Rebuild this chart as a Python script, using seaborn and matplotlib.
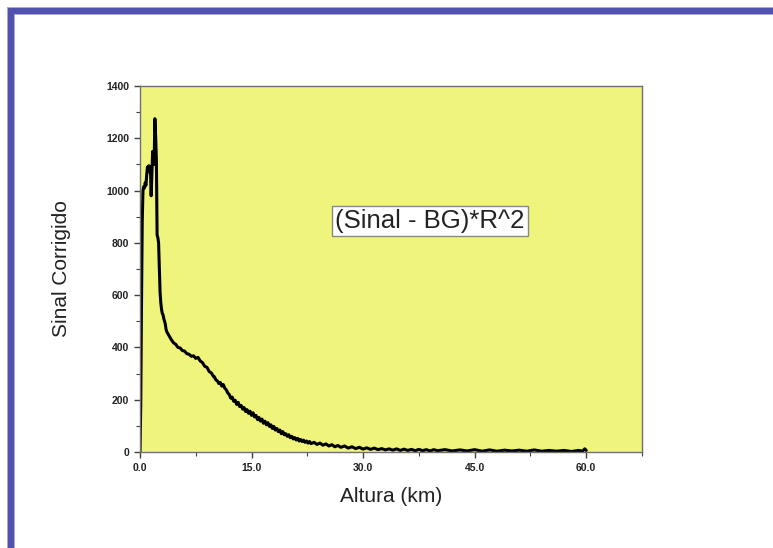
import matplotlib
matplotlib.use("Agg")
import matplotlib.pyplot as plt
from matplotlib.patches import Rectangle
from matplotlib.ticker import MultipleLocator, FormatStrFormatter
import pandas as pd
import seaborn as sns

# Range-corrected lidar signal versus altitude
altura_km = [
    0.0, 0.1, 0.2, 0.3, 0.4, 0.5, 0.6, 0.7, 0.8, 0.9,
    1.0, 1.1, 1.2, 1.3, 1.4, 1.5, 1.6, 1.7, 1.8, 1.9,
    2.0, 2.1, 2.2, 2.3, 2.4, 2.5, 2.6, 2.7, 2.8, 2.9,
    3.0, 3.1, 3.2, 3.3, 3.4, 3.5, 3.6, 3.8, 4.0, 4.2,
    4.5, 4.8, 5.1, 5.4, 5.7, 6.0, 6.3, 6.6, 6.9, 7.2,
    7.5, 7.8, 8.1, 8.4, 8.7, 9.0, 9.3, 9.6, 9.9,
    10.0, 10.2, 10.4, 10.6, 10.8, 11.0, 11.2, 11.4, 11.6, 11.8,
    12.0, 12.2, 12.4, 12.6, 12.8, 13.0, 13.2, 13.4, 13.6, 13.8,
    14.0, 14.2, 14.4, 14.6, 14.8, 15.0, 15.2, 15.4, 15.6, 15.8,
    16.0, 16.2, 16.4, 16.6, 16.8, 17.0, 17.2, 17.4, 17.6, 17.8,
    18.0, 18.2, 18.4, 18.6, 18.8, 19.0, 19.2, 19.4, 19.6, 19.8,
    20.0, 20.2, 20.4, 20.6, 20.8, 21.0, 21.2, 21.4, 21.6, 21.8,
    22.0, 22.2, 22.4, 22.6, 22.8, 23.0, 23.4, 23.8, 24.2, 24.6,
    25.0, 25.4, 25.8, 26.2, 26.6, 27.0, 27.5, 28.0, 28.5, 29.0,
    29.5, 30.0, 30.5, 31.0, 31.5, 32.0, 32.5, 33.0, 33.5, 34.0,
    34.5, 35.0, 35.5, 36.0, 36.5, 37.0, 37.5, 38.0, 38.5, 39.0,
    39.5, 40.0, 41.0, 42.0, 43.0, 44.0, 45.0, 46.0, 47.0, 48.0,
    49.0, 50.0, 51.0, 52.0, 53.0, 54.0, 55.0, 56.0, 57.0, 58.0,
    59.0, 59.5, 59.8, 60.0,
]
sinal_corrigido = [
    0, 180, 560, 880, 1000, 1015, 1010, 1030, 1020, 1060,
    1090, 1080, 1095, 1070, 1090, 980, 1060, 1150, 1120, 1100,
    1275, 1210, 1120, 830, 820, 800, 700, 610, 570, 545,
    530, 525, 510, 500, 490, 470, 460, 450, 440, 430,
    418, 412, 400, 398, 388, 386, 376, 374, 366, 368,
    358, 362, 348, 342, 328, 324, 308, 302, 288,
    288, 276, 272, 262, 266, 252, 258, 244, 238, 226,
    220, 206, 210, 194, 198, 182, 190, 174, 178, 164,
    170, 155, 162, 148, 156, 140, 150, 134, 140, 124,
    132, 118, 126, 110, 118, 104, 112, 98, 104, 90,
    98, 84, 90, 78, 84, 70, 78, 66, 70, 60,
    66, 55, 60, 50, 55, 46, 52, 42, 48, 40,
    45, 37, 42, 34, 40, 32, 37, 29, 34, 26,
    31, 23, 28, 20, 25, 18, 23, 15, 20, 13,
    18, 11, 16, 10, 15, 9, 13, 8, 12, 7,
    12, 6, 11, 6, 10, 5, 10, 5, 9, 4,
    9, 5, 9, 4, 8, 4, 9, 3, 8, 3,
    7, 4, 7, 3, 8, 3, 6, 3, 6, 2,
    6, 3, 12, 6,
]
x_ticks = [0.0, 15.0, 30.0, 45.0, 60.0]
y_ticks = [0, 200, 400, 600, 800, 1000, 1200, 1400]
anotacao = "(Sinal - BG)*R^2"

df = pd.DataFrame({"Altura (km)": altura_km, "Sinal Corrigido": sinal_corrigido})

sns.set_style("ticks")
plt.rcParams["font.family"] = ["Liberation Sans", "DejaVu Sans"]

W, H = 773, 548
fig = plt.figure(figsize=(W / 100, H / 100), dpi=100)
fig.patch.set_facecolor("white")

# Blue frame along the top and left edges
for (x0, y0, w, h, c) in [
    (7, 7, 8, H, "#a9a9dc"), (7, 7, W, 8, "#a9a9dc"),
    (8, 8, 6, H, "#5151ae"), (8, 8, W, 6, "#5151ae"),
]:
    fig.patches.append(Rectangle((x0 / W, 1 - (y0 + h) / H), w / W, h / H,
                                 transform=fig.transFigure, color=c, lw=0, zorder=0))

ax = fig.add_axes([140 / W, (H - 452) / H, (642 - 140) / W, (452 - 86) / H])
ax.set_facecolor("#eef47c")

sns.lineplot(data=df, x="Altura (km)", y="Sinal Corrigido", ax=ax,
             color="black", linewidth=2.2, estimator=None, sort=False)

ax.set_xlim(0, 67.5)
ax.set_ylim(0, 1400)
ax.set_xticks(x_ticks)
ax.set_yticks(y_ticks)
ax.xaxis.set_minor_locator(MultipleLocator(7.5))
ax.yaxis.set_minor_locator(MultipleLocator(100))
ax.xaxis.set_major_formatter(FormatStrFormatter("%.1f"))
ax.yaxis.set_major_formatter(FormatStrFormatter("%d"))

for s in ax.spines.values():
    s.set_color("#707070")
    s.set_linewidth(1.0)
ax.tick_params(which="major", direction="out", length=4, width=1.0,
               color="#404040", labelsize=7.5, pad=4)
ax.tick_params(which="minor", direction="out", length=3, width=0.8, color="#404040")
for lab in ax.get_xticklabels() + ax.get_yticklabels():
    lab.set_fontweight("bold")
    lab.set_color("#222222")

ax.set_xlabel("Altura (km)", fontsize=15, color="#222222")
ax.set_ylabel("Sinal Corrigido", fontsize=15, color="#222222")
ax.xaxis.set_label_coords(0.5, -0.095)
ax.yaxis.set_label_coords(-0.137, 0.5)

ax.text(0.578, 0.632, anotacao, transform=ax.transAxes, fontsize=18.5,
        ha="center", va="center", color="#222222",
        bbox=dict(boxstyle="square,pad=0.12", facecolor="white",
                  edgecolor="#888888", linewidth=1.0))

fig.savefig("out.png", dpi=100)
